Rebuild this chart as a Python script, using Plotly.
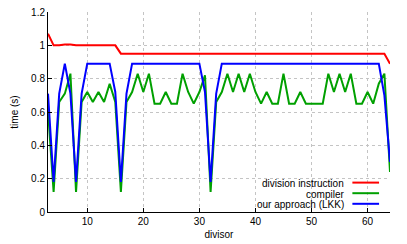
import plotly.graph_objects as go

divisor = [3, 4, 5, 6, 7, 8, 9, 10, 11, 12, 13, 14, 15, 16, 17, 18, 19, 20, 21, 22,
           23, 24, 25, 26, 27, 28, 29, 30, 31, 32, 33, 34, 35, 36, 37, 38, 39, 40, 41, 42,
           43, 44, 45, 46, 47, 48, 49, 50, 51, 52, 53, 54, 55, 56, 57, 58, 59, 60, 61, 62,
           63, 64]

division_instruction = [1.07, 1.0, 1.0, 1.005, 1.005, 1.0, 1.0, 1.0, 1.0, 1.0, 1.0, 1.0, 1.0,
                        0.95, 0.95, 0.95, 0.95, 0.95, 0.95, 0.95, 0.95, 0.95, 0.95, 0.95, 0.95,
                        0.95, 0.95, 0.95, 0.95, 0.95, 0.95, 0.95, 0.95, 0.95, 0.95, 0.95, 0.95,
                        0.95, 0.95, 0.95, 0.95, 0.95, 0.95, 0.95, 0.95, 0.95, 0.95, 0.95, 0.95,
                        0.95, 0.95, 0.95, 0.95, 0.95, 0.95, 0.95, 0.95, 0.95, 0.95, 0.95, 0.95,
                        0.89]

compiler = [0.61, 0.12, 0.66, 0.71, 0.83, 0.12, 0.66, 0.72, 0.66, 0.72, 0.66, 0.77, 0.66,
            0.12, 0.66, 0.72, 0.83, 0.72, 0.83, 0.65, 0.65, 0.72, 0.65, 0.65, 0.83, 0.72,
            0.65, 0.72, 0.82, 0.12, 0.66, 0.72, 0.83, 0.72, 0.83, 0.72, 0.83, 0.72, 0.65,
            0.72, 0.65, 0.65, 0.83, 0.65, 0.65, 0.72, 0.65, 0.65, 0.65, 0.65, 0.83, 0.72,
            0.83, 0.72, 0.83, 0.65, 0.65, 0.72, 0.65, 0.77, 0.83, 0.24]

our_approach = [0.71, 0.18, 0.71, 0.89, 0.71, 0.18, 0.71, 0.89, 0.89, 0.89, 0.89, 0.89, 0.72,
                0.18, 0.71, 0.89, 0.89, 0.89, 0.89, 0.89, 0.89, 0.89, 0.89, 0.89, 0.89, 0.89,
                0.89, 0.89, 0.72, 0.18, 0.71, 0.89, 0.89, 0.89, 0.89, 0.89, 0.89, 0.89, 0.89,
                0.89, 0.89, 0.89, 0.89, 0.89, 0.89, 0.89, 0.89, 0.89, 0.89, 0.89, 0.89, 0.89,
                0.89, 0.89, 0.89, 0.89, 0.89, 0.89, 0.89, 0.89, 0.70, 0.30]

series_names = ["division instruction", "compiler", "our approach (LKK)"]
series_colors = ["#ff0000", "#00a000", "#0000ff"]
series_values = [division_instruction, compiler, our_approach]

x_ticks = [10, 20, 30, 40, 50, 60]
y_ticks = [0, 0.2, 0.4, 0.6, 0.8, 1.0, 1.2]
y_tick_labels = ["0", "0.2", "0.4", "0.6", "0.8", "1", "1.2"]

FONT = "Liberation Sans, Arial, sans-serif"

fig = go.Figure()
for name, color, vals in zip(series_names, series_colors, series_values):
    fig.add_trace(go.Scatter(x=divisor, y=vals, mode="lines", name=name,
                             line=dict(color=color, width=2), showlegend=False))

# custom gnuplot-style key (text right-aligned, sample on the right)
shapes = [dict(type="rect", xref="paper", yref="paper", x0=0.538, x1=0.982, y0=0.006, y1=0.176,
               fillcolor="white", line=dict(width=0), layer="between")]
annotations = []
rows_y = [0.143, 0.090, 0.037]
for name, color, ry in zip(series_names, series_colors, rows_y):
    annotations.append(dict(x=0.871, y=ry, xref="paper", yref="paper", text=name,
                            showarrow=False, xanchor="right", yanchor="middle",
                            font=dict(family=FONT, size=10, color="black")))
    shapes.append(dict(type="line", xref="paper", yref="paper", x0=0.890, x1=0.968,
                       y0=ry + 0.004, y1=ry + 0.004, line=dict(color=color, width=2)))

fig.update_layout(
    width=407, height=244,
    margin=dict(l=48, r=17, t=12, b=32, autoexpand=False),
    paper_bgcolor="white", plot_bgcolor="white",
    font=dict(family=FONT, size=10, color="black"),
    shapes=shapes, annotations=annotations,
    showlegend=False,
)
fig.update_xaxes(range=[3, 64], tickvals=x_ticks, showline=True, linecolor="black", linewidth=1,
                 ticks="inside", ticklen=4, tickcolor="black", showgrid=True, automargin=False,
                 gridcolor="#c4c4c4", griddash="dot", gridwidth=1, zeroline=False,
                 title=dict(text="divisor", standoff=4, font=dict(size=10)))
fig.update_yaxes(range=[0, 1.2], tickvals=y_ticks, ticktext=y_tick_labels, showline=True,
                 linecolor="black", linewidth=1, ticks="inside", ticklen=4, tickcolor="black",
                 showgrid=True, gridcolor="#c4c4c4", griddash="dot", gridwidth=1, zeroline=False,
                 automargin=False,
                 title=dict(text="time (s)", standoff=10, font=dict(size=10)))

fig.write_html("out.html", config={"displayModeBar": False, "staticPlot": True},
               post_script="document.body.style.margin='0';document.body.style.padding='0';")
